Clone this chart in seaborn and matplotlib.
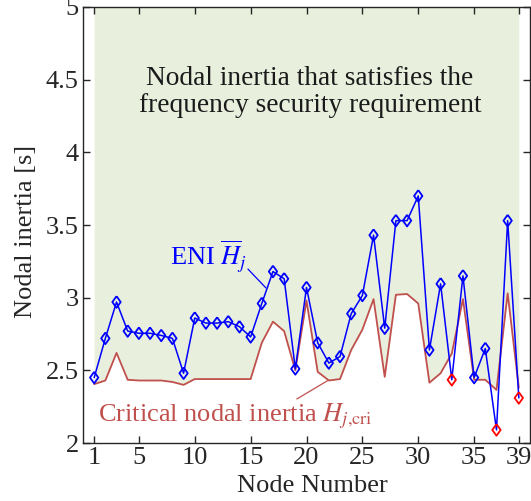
import numpy as np
import pandas as pd
import matplotlib
matplotlib.use("Agg")
import matplotlib.pyplot as plt
import seaborn as sns

nodes = list(range(1, 40))
eni = [2.45, 2.72, 2.97, 2.77, 2.755, 2.755, 2.74, 2.72, 2.48, 2.86,
       2.825, 2.825, 2.835, 2.80, 2.73, 2.96, 3.18, 3.13, 2.51, 3.07,
       2.69, 2.55, 2.595, 2.89, 3.015, 3.43, 2.79, 3.53, 3.53, 3.70,
       2.64, 3.095, 2.435, 3.15, 2.45, 2.65, 2.09, 3.53, 2.31]
crit = [2.405, 2.43, 2.62, 2.435, 2.43, 2.43, 2.43, 2.42, 2.40, 2.44,
        2.44, 2.44, 2.44, 2.44, 2.44, 2.69, 2.835, 2.77, 2.50, 2.98,
        2.49, 2.43, 2.44, 2.64, 2.78, 2.99, 2.455, 3.02, 3.025, 2.96,
        2.415, 2.48, 2.615, 2.99, 2.435, 2.435, 2.365, 3.03, 2.38]
xticks = [1, 5, 10, 15, 20, 25, 30, 35, 39]
yticks = [2, 2.5, 3, 3.5, 4, 4.5, 5]

df = pd.DataFrame({"node": nodes, "eni": eni, "crit": crit})
df["violate"] = df["eni"] < df["crit"]

sns.set_style("ticks")
plt.rcParams["font.family"] = ["Liberation Serif", "DejaVu Serif"]
plt.rcParams["mathtext.fontset"] = "stix"

fig = plt.figure(figsize=(5.31, 5.01), dpi=100)
ax = fig.add_axes([83 / 531, 58 / 501, 447 / 531, 436 / 501])

ax.fill_between(df["node"], df["crit"], 5, color="#e9efdd", lw=0, zorder=0)

sns.lineplot(data=df, x="node", y="crit", color="#c0504d", lw=1.3, ax=ax, zorder=2)
sns.lineplot(data=df, x="node", y="eni", color="#0000ff", lw=1.1, ax=ax, zorder=3)

dmarker = [(0, 1), (0.72, 0), (0, -1), (-0.72, 0), (0, 1)]
ok = df[~df["violate"]]
bad = df[df["violate"]]
sns.scatterplot(data=ok, x="node", y="eni", marker=dmarker, s=70,
                facecolor="none", edgecolor="#0000ff", linewidth=1.3, ax=ax, zorder=4)
sns.scatterplot(data=bad, x="node", y="eni", marker=dmarker, s=70,
                facecolor="none", edgecolor="#ff0000", linewidth=1.3, ax=ax, zorder=5)

ax.set_xlim(0, 40)
ax.set_ylim(2, 5)
ax.set_xticks(xticks)
ax.set_xticklabels([str(t) for t in xticks])
ax.set_yticks(yticks)
ax.set_yticklabels(["2", "2.5", "3", "3.5", "4", "4.5", "5"])
dark = "#262626"
ax.tick_params(direction="in", length=5, width=1, colors=dark, labelsize=19,
               top=True, right=True, pad=3)
for s in ax.spines.values():
    s.set_color(dark)
    s.set_linewidth(1.0)
ax.set_xlabel("Node Number", fontsize=19, color=dark, labelpad=4)
ax.set_ylabel("Nodal inertia [s]", fontsize=19, color=dark, labelpad=6)
ax.xaxis.label.set_x(0.513)
ax.yaxis.label.set_y(0.486)

ax.text(20.3, 4.415, "Nodal inertia that satisfies the\nfrequency security requirement",
        ha="center", va="center", fontsize=19.7, color="#1a1a1a", linespacing=1.15)
ax.text(7.75, 3.232, r"ENI $\overline{H}_j$", ha="left", va="baseline",
        fontsize=19, color="#0000ff")
ax.plot([14.76, 16.37], [3.197, 3.067], color="#0000ff", lw=0.9)
ax.text(1.34, 2.147, r"Critical nodal inertia $H_{j{,}\mathrm{cri}}$", ha="left",
        va="baseline", fontsize=19, color="#c0504d")
ax.plot([19.14, 22.0], [2.303, 2.434], color="#c0504d", lw=0.9)

fig.savefig("out.png", dpi=100)
